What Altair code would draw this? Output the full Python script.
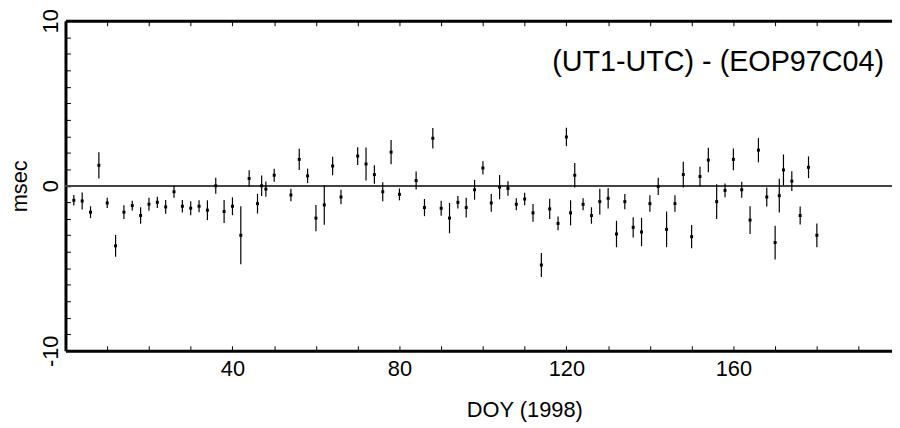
import altair as alt
import pandas as pd

# ---- data ----
doy = [2, 4, 6, 8, 10, 12, 14, 16, 18, 20, 22, 24, 26, 28, 30, 32, 34, 36, 38, 40,
       42, 44, 46, 47, 48, 50, 54, 56, 58, 60, 62, 64, 66, 70, 72, 74, 76, 78, 80, 84,
       86, 88, 90, 92, 94, 96, 98, 100, 102, 104, 106, 108, 110, 112, 114, 116, 118, 120, 121, 122,
       124, 126, 128, 130, 132, 134, 136, 138, 140, 142, 144, 146, 148, 150, 152, 154, 156, 158, 160, 162,
       164, 166, 168, 170, 171, 172, 174, 176, 178, 180]
value = [-0.88, -0.92, -1.60, 1.24, -1.04, -3.64, -1.60, -1.20, -1.80, -1.12, -1.00, -1.28, -0.36, -1.24, -1.36, -1.24, -1.48, 0.00, -1.56, -1.24,
         -3.00, 0.44, -1.08, 0.00, -0.20, 0.64, -0.56, 1.60, 0.60, -1.96, -1.16, 1.20, -0.68, 1.80, 1.32, 0.68, -0.36, 2.04, -0.52, 0.32,
         -1.32, 2.88, -1.36, -1.96, -1.00, -1.32, -0.24, 1.08, -1.04, -0.08, -0.16, -1.12, -0.80, -1.64, -4.80, -1.40, -2.28, 2.96, -1.64, 0.64,
         -1.12, -1.80, -0.96, -0.76, -2.92, -0.96, -2.52, -2.80, -1.08, -0.04, -2.64, -1.08, 0.68, -3.08, 0.56, 1.56, -0.96, -0.28, 1.60, -0.24,
         -2.08, 2.16, -0.68, -3.44, -0.60, 0.96, 0.28, -1.80, 1.12, -3.00]
error = [0.32, 0.52, 0.36, 0.80, 0.31, 0.66, 0.42, 0.30, 0.50, 0.40, 0.34, 0.42, 0.36, 0.38, 0.42, 0.36, 0.60, 0.48, 0.70, 0.54,
         1.76, 0.50, 0.60, 0.62, 0.46, 0.40, 0.38, 0.64, 0.44, 0.80, 1.20, 0.56, 0.44, 0.54, 1.00, 0.56, 0.58, 0.74, 0.36, 0.54,
         0.52, 0.62, 0.46, 0.92, 0.38, 0.60, 0.60, 0.40, 0.54, 0.74, 0.44, 0.36, 0.38, 0.54, 0.72, 0.62, 0.42, 0.56, 0.76, 0.74,
         0.36, 0.50, 0.78, 0.62, 0.80, 0.46, 0.62, 0.86, 0.50, 0.52, 1.08, 0.50, 0.78, 0.70, 0.60, 0.74, 1.06, 0.42, 0.66, 0.48,
         0.84, 0.74, 0.58, 1.02, 1.02, 0.94, 0.60, 0.54, 0.66, 0.72]

x_ticks = [10, 20, 30, 40, 50, 60, 70, 80, 90, 100, 110, 120, 130, 140, 150, 160, 170, 180, 190]
x_labels = [40, 80, 120, 160]
y_ticks = list(range(-9, 10))
y_labels = [-10, 0, 10]
annotation = "(UT1-UTC) - (EOP97C04)"

X_DOMAIN = [0, 198]
Y_DOMAIN = [-10, 10]

df = pd.DataFrame({"doy": doy, "value": value, "err": error})
df["lo"] = df["value"] - df["err"]
df["hi"] = df["value"] + df["err"]

FONT = "Liberation Sans"
W, H = 834, 333

xs = alt.Scale(domain=X_DOMAIN, nice=False, zero=False)
ys = alt.Scale(domain=Y_DOMAIN, nice=False, zero=False)

base = alt.Chart(df)

zero = base.mark_rule(color="#444444", strokeWidth=1).encode(
    y=alt.YDatum(0, scale=ys, axis=None)
)

err = base.mark_rule(color="black", strokeWidth=1.2).encode(
    x=alt.X("doy:Q", scale=xs, axis=alt.Axis(
        orient="bottom", values=x_labels, ticks=False, grid=False,
        domainWidth=3, domainColor="black",
        labelFont=FONT, labelFontSize=22, labelColor="black", labelPadding=8,
        labelFlush=False,
        title="DOY (1998)", titleFont=FONT, titleFontSize=22, titleFontWeight="normal",
        titleColor="black", titlePadding=20, titleX=463, titleAlign="center")),
    y=alt.Y("lo:Q", scale=ys, axis=alt.Axis(
        orient="left", values=y_labels, ticks=False, grid=False,
        domainWidth=3, domainColor="black",
        labelAngle=270, labelAlign="center", labelBaseline="bottom",
        labelExpr="'' + datum.value",
        labelFont=FONT, labelFontSize=22, labelColor="black", labelPadding=3,
        labelFlush=False,
        title="msec", titleFont=FONT, titleFontSize=22, titleFontWeight="normal",
        titleColor="black", titleAngle=270, titlePadding=8)),
    y2="hi:Q",
)

pts = base.mark_square(color="black", size=9, opacity=1).encode(
    x=alt.X("doy:Q", scale=xs, axis=alt.Axis(
        orient="top", ticks=False, labels=False, grid=False, title=None,
        domainWidth=3, domainColor="black")),
    y=alt.Y("value:Q", scale=ys, axis=alt.Axis(
        orient="left", offset=-5, values=y_ticks, ticks=True, tickSize=5,
        tickColor="black", tickWidth=1, labels=False, domain=False, grid=False,
        title=None)),
)

ticks_bottom = base.mark_point(opacity=0).encode(
    x=alt.X("doy:Q", scale=xs, axis=alt.Axis(
        orient="bottom", offset=-5, values=x_ticks, ticks=True, tickSize=5,
        tickColor="black", tickWidth=1, labels=False, domain=False, grid=False,
        title=None)),
    y=alt.Y("value:Q", scale=ys, axis=None),
)

ticks_top = base.mark_point(opacity=0).encode(
    x=alt.X("doy:Q", scale=xs, axis=alt.Axis(
        orient="top", offset=-5, values=x_ticks, ticks=True, tickSize=5,
        tickColor="black", tickWidth=1, labels=False, domain=False, grid=False,
        title=None)),
    y=alt.Y("value:Q", scale=ys, axis=None),
)

label = alt.Chart(pd.DataFrame({"t": [annotation]})).mark_text(
    align="right", baseline="alphabetic", font=FONT, fontSize=29, color="black"
).encode(text="t:N", x=alt.value(826), y=alt.value(51))

chart = alt.layer(zero, err, pts, ticks_bottom, ticks_top, label).resolve_axis(
    x="independent", y="independent"
).properties(
    width=W, height=H,
    autosize=alt.AutoSizeParams(type="none"),
    padding={"left": 58, "top": 11, "right": 0, "bottom": 76},
).configure_view(stroke=None).configure(background="white")

chart.save("out.html", embed_options={"renderer": "svg", "actions": False})
